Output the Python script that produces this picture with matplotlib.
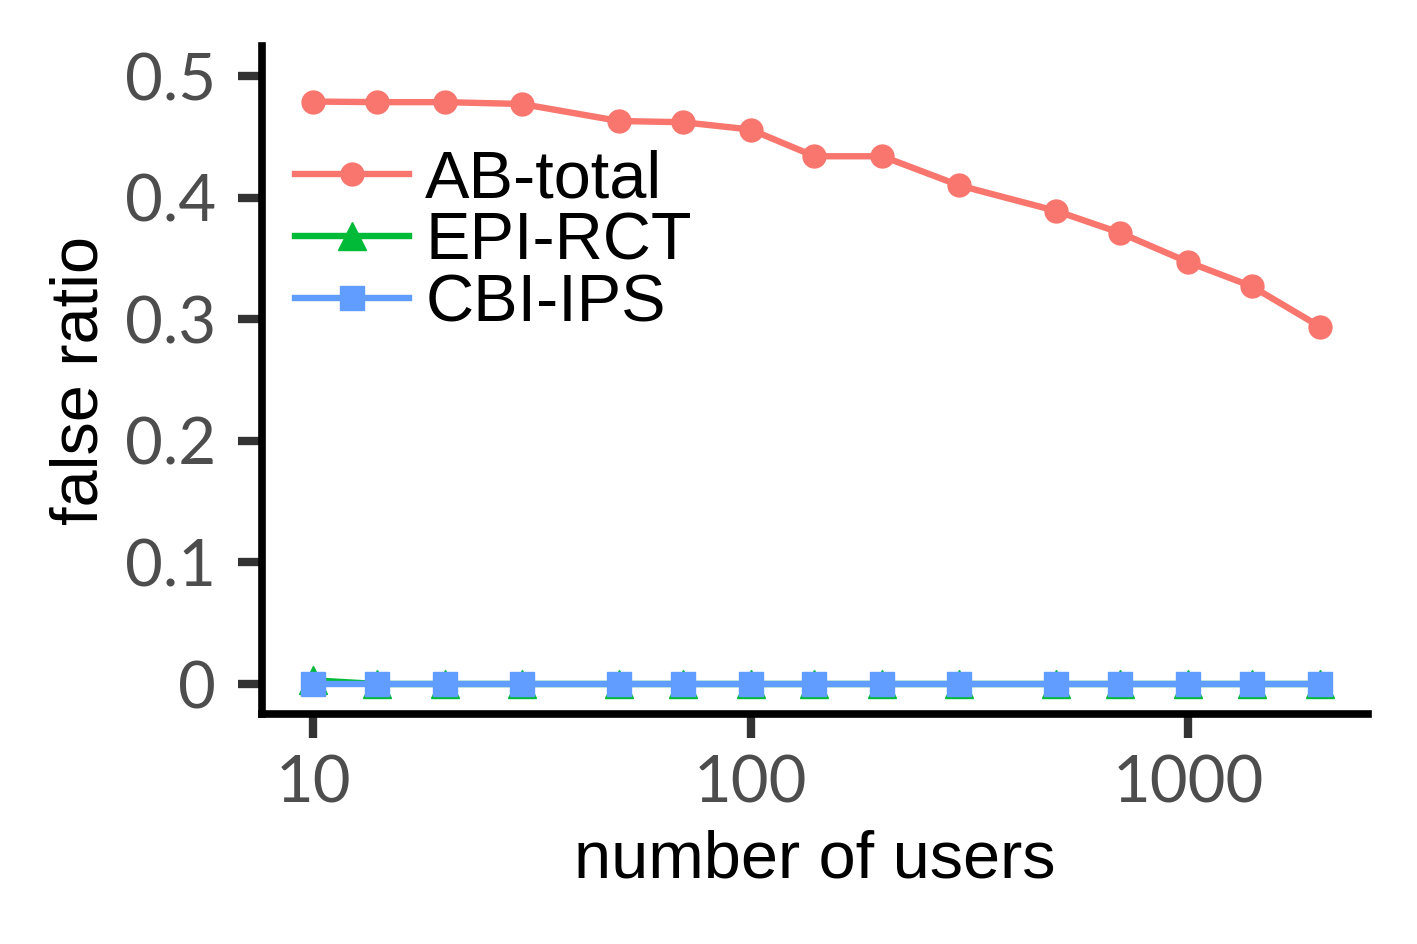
import matplotlib
matplotlib.use("Agg")
import matplotlib.pyplot as plt
from matplotlib.ticker import FixedLocator, NullLocator

# number of users (log scale)
users = [10, 14, 20, 30, 50, 70, 100, 140, 200, 300, 500, 700, 1000, 1400, 2000]

ab_total = [0.479, 0.4785, 0.4785, 0.477, 0.463, 0.462, 0.456, 0.434, 0.434,
            0.410, 0.389, 0.371, 0.347, 0.327, 0.294]
epi_rct = [0.003, 0, 0, 0, 0, 0, 0, 0, 0, 0, 0, 0, 0, 0, 0]
cbi_ips = [0, 0, 0, 0, 0, 0, 0, 0, 0, 0, 0, 0, 0, 0, 0]

xticks = [10, 100, 1000]
xtick_labels = ["10", "100", "1000"]
yticks = [0, 0.1, 0.2, 0.3, 0.4, 0.5]
ytick_labels = ["0", "0.1", "0.2", "0.3", "0.4", "0.5"]

fig = plt.figure(figsize=(14.17, 9.44), dpi=100)
ax = fig.add_axes([0.1849, 0.2436, 0.9654 - 0.1849, 0.9513 - 0.2436])

ax.plot(users, ab_total, color="#F8766D", lw=4.6, marker="o", ms=16.5,
        label="AB-total", zorder=3)
ax.plot(users, epi_rct, color="#00BA38", lw=4.6, marker="^", ms=20,
        label="EPI-RCT", zorder=3)
ax.plot(users, cbi_ips, color="#619CFF", lw=4.6, marker="s", ms=17,
        label="CBI-IPS", zorder=4)

ax.set_xscale("log")
ax.set_xlim(7.64, 2579)
ax.set_ylim(-0.0247, 0.5247)
ax.xaxis.set_major_locator(FixedLocator(xticks))
ax.xaxis.set_minor_locator(NullLocator())
ax.set_xticklabels(xtick_labels)
ax.set_yticks(yticks)
ax.set_yticklabels(ytick_labels)

for s in ["top", "right"]:
    ax.spines[s].set_visible(False)
for s in ["left", "bottom"]:
    ax.spines[s].set_linewidth(5.5)
    ax.spines[s].set_color("black")
    ax.spines[s].set_capstyle("projecting")

ax.tick_params(axis="both", length=17, width=6, color="#333333",
               labelcolor="#4D4D4D", labelsize=47)
ax.tick_params(axis="y", pad=16)
ax.tick_params(axis="x", pad=12)
for lab in ax.get_xticklabels() + ax.get_yticklabels():
    lab.set_family("Lato")

ax.set_xlabel("number of users", fontsize=48, family="Liberation Sans", labelpad=12)
ax.set_ylabel("false ratio", fontsize=48, family="Liberation Sans", labelpad=10)

ax.legend(loc="upper left", bbox_to_anchor=(0.0, 0.895), frameon=False,
          prop={"family": "Liberation Sans", "size": 48},
          handlelength=1.7, handletextpad=0.25, labelspacing=0.0, borderpad=0)

plt.savefig("out.png", dpi=100)
